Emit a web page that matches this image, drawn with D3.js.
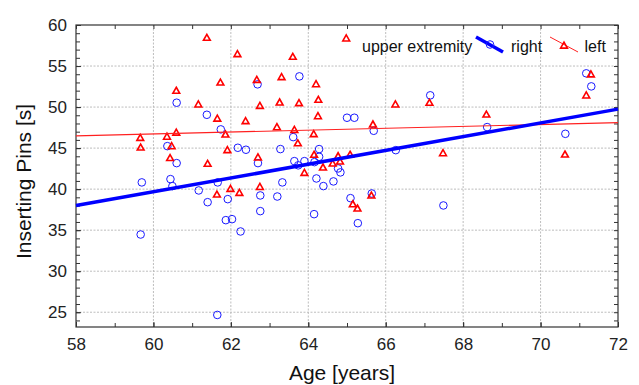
<!DOCTYPE html>
<html>
<head>
<meta charset="utf-8">
<script src="https://cdn.jsdelivr.net/npm/d3@7"></script>
<style>
  body { margin: 0; background: #fff; }
  svg { font-family: "Liberation Sans", Arial, sans-serif; }
  .axis path { display: none; }
  .axis line { stroke: #333; }
  .axis text { font-size: 17px; fill: #222; }
</style>
</head>
<body>
<div id="chart"></div>
<script>
// right hand (circles)
const rightAge = [59.70, 59.67, 60.36, 60.44, 60.49, 60.60, 60.60, 61.17, 61.38, 61.40,
  61.66, 61.65, 61.74, 61.92, 61.87, 62.03, 62.18, 62.25, 62.39, 62.69,
  62.70, 62.76, 62.76, 63.20, 63.28, 63.33, 63.61, 63.64, 63.74, 63.77,
  63.90, 64.16, 64.15, 64.21, 64.28, 64.28, 64.39, 64.65, 64.77, 64.83,
  65.00, 65.19, 65.09, 65.28, 65.64, 65.69, 66.26, 67.15, 67.49, 68.62,
  70.64, 71.18, 71.31];
const rightPins = [40.82, 34.47, 45.24, 41.22, 40.37, 50.53, 43.17, 39.84, 49.06, 38.41,
  40.82, 24.67, 47.28, 38.78, 36.22, 36.34, 45.04, 34.84, 44.80, 52.77,
  43.17, 39.23, 37.32, 39.10, 44.88, 40.82, 46.34, 43.41, 42.90, 53.74,
  43.41, 43.29, 36.95, 41.30, 44.88, 43.94, 40.37, 40.94, 42.52, 42.04,
  48.70, 48.70, 38.90, 35.85, 39.47, 47.11, 44.75, 51.43, 38.01, 47.56,
  46.74, 54.11, 52.52];

// left hand (triangles)
const leftAge = [59.66, 59.67, 60.35, 60.47, 60.43, 60.59, 60.59, 61.16, 61.38, 61.40,
  61.65, 61.64, 61.73, 61.86, 61.91, 61.99, 62.17, 62.22, 62.38, 62.67,
  62.70, 62.75, 62.75, 63.19, 63.26, 63.31, 63.60, 63.64, 63.73, 63.76,
  63.90, 64.14, 64.15, 64.20, 64.25, 64.26, 64.38, 64.63, 64.77, 64.82,
  64.98, 65.08, 65.15, 65.27, 65.63, 65.67, 66.25, 67.13, 67.48, 68.60,
  70.63, 71.18, 71.30];
const leftPins = [46.26, 45.08, 46.40, 45.24, 43.80, 52.00, 46.90, 50.33, 58.45, 43.10,
  48.60, 39.35, 53.00, 46.67, 44.76, 40.04, 56.46, 39.55, 48.30, 53.33,
  43.87, 50.16, 40.28, 47.56, 50.57, 53.66, 56.14, 47.23, 45.60, 50.49,
  41.99, 46.71, 44.20, 52.80, 48.90, 50.90, 42.65, 43.13, 44.02, 43.37,
  58.37, 44.20, 38.17, 37.65, 39.23, 47.89, 50.33, 50.53, 44.39, 49.10,
  44.23, 51.43, 53.99];

// fitted lines (value at each end of the age axis)
const fitAge = [58, 72];
const rightFit = [38.0, 49.75];
const leftFit = [46.5, 48.1];

const xMajor = [58, 60, 62, 64, 66, 68, 70, 72];
const yMajor = [25, 30, 35, 40, 45, 50, 55, 60];

const width = 639, height = 385;
const margin = { top: 25, right: 21, bottom: 58, left: 76 };
const w = width - margin.left - margin.right;
const h = height - margin.top - margin.bottom;

const svg = d3.select("#chart").append("svg")
  .attr("width", width)
  .attr("height", height);

const g = svg.append("g")
  .attr("transform", `translate(${margin.left},${margin.top})`);

const x = d3.scaleLinear().domain([58, 72]).range([0, w]);
const y = d3.scaleLinear().domain([23.2, 60]).range([h, 0]);

// grid
g.append("g").selectAll("line")
  .data(xMajor.slice(1, -1))
  .join("line")
  .attr("x1", d => x(d)).attr("x2", d => x(d))
  .attr("y1", 0).attr("y2", h)
  .attr("stroke", "#bdbdbd").attr("stroke-dasharray", "2,1.5");

g.append("g").selectAll("line")
  .data(yMajor.slice(0, -1))
  .join("line")
  .attr("x1", 0).attr("x2", w)
  .attr("y1", d => y(d)).attr("y2", d => y(d))
  .attr("stroke", "#bdbdbd").attr("stroke-dasharray", "2,1.5");

// axes, ticks pointing inward on all sides
const xMinor = d3.range(58, 73, 1);
const yMinor = d3.range(24, 61, 1);

g.append("g").attr("class", "axis").attr("transform", `translate(0,${h})`)
  .call(d3.axisBottom(x).tickValues(xMajor).tickSize(-5).tickPadding(11).tickFormat(d3.format("d")));
g.append("g").attr("class", "axis").attr("transform", `translate(0,${h})`)
  .call(d3.axisBottom(x).tickValues(xMinor).tickSize(-4).tickFormat(""));
g.append("g").attr("class", "axis")
  .call(d3.axisTop(x).tickValues(xMinor).tickSize(-4).tickFormat(""));

g.append("g").attr("class", "axis")
  .call(d3.axisLeft(y).tickValues(yMajor).tickSize(-5).tickPadding(9).tickFormat(d3.format("d")));
g.append("g").attr("class", "axis")
  .call(d3.axisLeft(y).tickValues(yMinor).tickSize(-4).tickFormat(""));
g.append("g").attr("class", "axis").attr("transform", `translate(${w},0)`)
  .call(d3.axisRight(y).tickValues(yMinor).tickSize(-4).tickFormat(""));

g.selectAll(".axis text").attr("fill", "#222");

// frame
g.append("rect")
  .attr("width", w).attr("height", h)
  .attr("fill", "none").attr("stroke", "#333").attr("stroke-width", 1.2);

const triPath = "M0,-3.4L3.4,2.6L-3.4,2.6Z";

// markers
g.append("g").selectAll("circle")
  .data(d3.zip(rightAge, rightPins))
  .join("circle")
  .attr("cx", d => x(d[0]))
  .attr("cy", d => y(d[1]))
  .attr("r", 3.8)
  .attr("fill", "none")
  .attr("stroke", "#1a1aff")
  .attr("stroke-width", 1);

g.append("g").selectAll("path")
  .data(d3.zip(leftAge, leftPins))
  .join("path")
  .attr("d", triPath)
  .attr("transform", d => `translate(${x(d[0])},${y(d[1])})`)
  .attr("fill", "none")
  .attr("stroke", "#ff0000")
  .attr("stroke-width", 1.6);

// fit lines
const line = d3.line().x(d => x(d[0])).y(d => y(d[1]));
g.append("path")
  .datum(d3.zip(fitAge, leftFit))
  .attr("d", line)
  .attr("fill", "none").attr("stroke", "#ff2020").attr("stroke-width", 1.2);
g.append("path")
  .datum(d3.zip(fitAge, rightFit))
  .attr("d", line)
  .attr("fill", "none").attr("stroke", "#0000ff").attr("stroke-width", 3.5);

// legend
const leg = svg.append("g").style("font-size", "16px").attr("fill", "#111");
leg.append("text").attr("x", 362).attr("y", 51.5).text("upper extremity");
leg.append("line")
  .attr("x1", 476).attr("y1", 37).attr("x2", 503).attr("y2", 52)
  .attr("stroke", "#0000ff").attr("stroke-width", 3.5);
leg.append("circle")
  .attr("cx", 490).attr("cy", 44.5).attr("r", 3.8)
  .attr("fill", "none").attr("stroke", "#1a1aff");
leg.append("text").attr("x", 511).attr("y", 51.5).text("right");
leg.append("line")
  .attr("x1", 550).attr("y1", 37).attr("x2", 578).attr("y2", 52)
  .attr("stroke", "#ff2020").attr("stroke-width", 1);
leg.append("path")
  .attr("d", triPath)
  .attr("transform", "translate(564,45.5)")
  .attr("fill", "none").attr("stroke", "#ff0000").attr("stroke-width", 1.6);
leg.append("text").attr("x", 584.5).attr("y", 51.5).text("left");

// axis titles
svg.append("text")
  .attr("x", 342).attr("y", 380)
  .attr("text-anchor", "middle")
  .style("font-size", "21px").attr("fill", "#111")
  .text("Age [years]");
svg.append("text")
  .attr("transform", "translate(30.5,181.5) rotate(-90)")
  .attr("text-anchor", "middle")
  .style("font-size", "21px").attr("fill", "#111")
  .text("Inserting Pins [s]");
</script>
</body>
</html>
